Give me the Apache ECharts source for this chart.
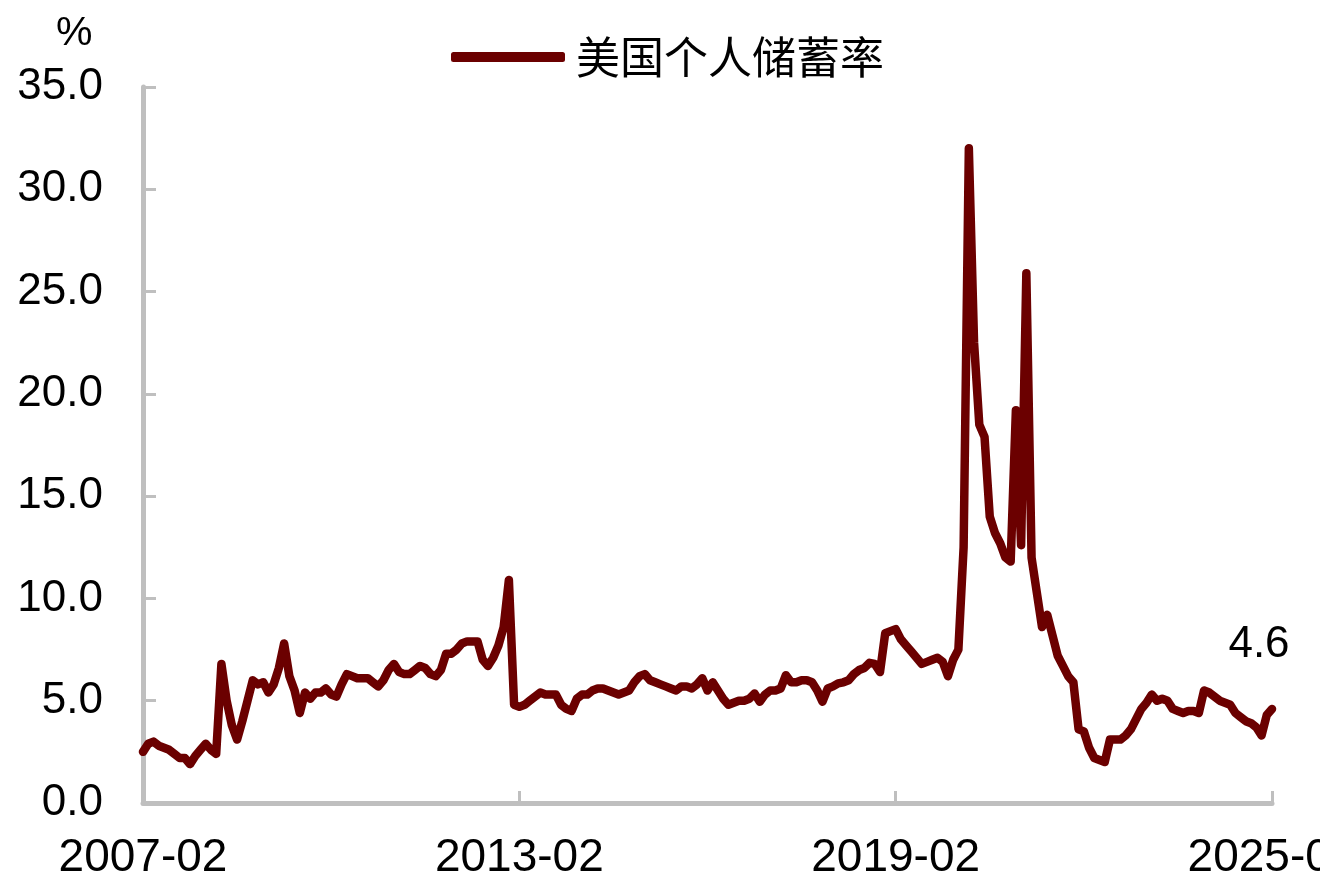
<!DOCTYPE html>
<html>
<head>
<meta charset="utf-8">
<script src="https://cdn.jsdelivr.net/npm/echarts@6/dist/echarts.min.js"></script>
<style>
  html, body { margin: 0; padding: 0; background: #fff; }
  #chart { width: 1320px; height: 891px; }
</style>
</head>
<body>
<div id="chart"></div>
<script>
// monthly US personal saving rate, 2007-02 .. 2025-02 (%)
const seriesName = '美国个人储蓄率'
const startYear = 2007
const startMonth = 2
const savingRate = [
  2.5, 2.9, 3.0, 2.8, 2.7, 2.6, 2.4, 2.2, 2.2, 1.9, 2.3,            // 2007-02..12
  2.6, 2.9, 2.6, 2.4, 6.8, 5.0, 3.8, 3.1, 4.0, 5.0, 6.0, 5.8,       // 2008
  5.9, 5.4, 5.8, 6.6, 7.8, 6.2, 5.5, 4.4, 5.4, 5.1, 5.4, 5.4,       // 2009
  5.6, 5.3, 5.2, 5.8, 6.3, 6.2, 6.1, 6.1, 6.1, 5.9, 5.7, 6.0,       // 2010
  6.5, 6.8, 6.4, 6.3, 6.3, 6.5, 6.7, 6.6, 6.3, 6.2, 6.5, 7.3,       // 2011
  7.3, 7.5, 7.8, 7.9, 7.9, 7.9, 7.0, 6.7, 7.1, 7.7, 8.6, 10.9,      // 2012
  4.8, 4.7, 4.8, 5.0, 5.2, 5.4, 5.3, 5.3, 5.3, 4.8, 4.6, 4.5,       // 2013
  5.1, 5.3, 5.3, 5.5, 5.6, 5.6, 5.5, 5.4, 5.3, 5.4, 5.5, 5.9,       // 2014
  6.2, 6.3, 6.0, 5.9, 5.8, 5.7, 5.6, 5.5, 5.7, 5.7, 5.6, 5.8,       // 2015
  6.1, 5.5, 5.9, 5.5, 5.1, 4.8, 4.9, 5.0, 5.0, 5.1, 5.35, 4.95,     // 2016
  5.3, 5.5, 5.5, 5.6, 6.25, 5.9, 5.9, 6.0, 6.0, 5.9, 5.5, 4.95,     // 2017
  5.6, 5.7, 5.85, 5.9, 6.0, 6.3, 6.5, 6.6, 6.85, 6.8, 6.4, 8.3,     // 2018
  8.4, 8.5, 8.0, 7.7, 7.4, 7.1, 6.8, 6.9, 7.0, 7.1, 6.9, 6.2,       // 2019
  7.0, 7.5, 12.5, 32.0, 22.5, 18.5, 17.9, 14.0, 13.2, 12.7, 12.0, 11.8, // 2020
  19.2, 12.6, 25.9, 12.0, 10.3, 8.6, 9.2, 8.2, 7.2, 6.7, 6.2, 5.9,  // 2021
  3.6, 3.5, 2.7, 2.2, 2.1, 2.0, 3.1, 3.1, 3.1, 3.3, 3.6, 4.1,       // 2022
  4.6, 4.9, 5.3, 5.0, 5.1, 5.0, 4.6, 4.5, 4.4, 4.5, 4.5, 4.4,       // 2023
  5.5, 5.4, 5.2, 5.0, 4.9, 4.8, 4.4, 4.2, 4.0, 3.9, 3.7, 3.3,       // 2024
  4.3, 4.6                                                          // 2025-01..02
]
const yTicks = [0, 5, 10, 15, 20, 25, 30, 35]

const months = []
for (let i = 0; i < savingRate.length; i++) {
  const m = startMonth - 1 + i
  const y = startYear + Math.floor(m / 12)
  months.push(`${y}-${String((m % 12) + 1).padStart(2, '0')}`)
}

const lineColor = '#6B0000'
const axisColor = '#BFBFBF'
const font = '"Liberation Sans", Arial, sans-serif'

const myChart = echarts.init(document.getElementById('chart'), null, { renderer: 'canvas' })

// only the last point carries a value label
const lastIdx = savingRate.length - 1
const seriesData = savingRate.map((v, i) => {
  if (i !== lastIdx) return v
  return {
    value: v,
    label: {
      show: true,
      position: 'top',
      distance: 42,
      offset: [-13, 0],
      formatter: (p) => p.value.toFixed(1),
      color: '#000',
      fontSize: 44,
      fontFamily: font
    }
  }
})

const option = {
  animation: false,
  title: {
    text: '%',
    left: 51,
    top: 8,
    textStyle: { fontSize: 41, fontWeight: 'normal', color: '#000', fontFamily: font }
  },
  legend: {
    data: [seriesName],
    left: 446,
    top: 30,
    itemWidth: 114,
    itemHeight: 10,
    icon: 'roundRect',
    textStyle: {
      fontSize: 44,
      color: '#000',
      fontFamily: '"Noto Sans CJK SC", sans-serif',
      padding: [0, 0, 0, 6]
    }
  },
  grid: {
    left: 143,
    right: 48,
    top: 87,
    bottom: 88,
    containLabel: false,
    outerBoundsMode: 'none'
  },
  xAxis: {
    type: 'category',
    boundaryGap: false,
    data: months,
    axisLine: { lineStyle: { color: axisColor, width: 5 } },
    axisTick: {
      inside: true,
      length: 12,
      interval: 71,
      lineStyle: { color: axisColor, width: 3 }
    },
    axisLabel: {
      interval: 71,
      margin: 32,
      fontSize: 46,
      color: '#000',
      fontFamily: font,
      hideOverlap: false
    },
    splitLine: { show: false }
  },
  yAxis: {
    type: 'value',
    min: yTicks[0],
    max: yTicks[yTicks.length - 1],
    interval: 5,
    axisLine: { show: true, lineStyle: { color: axisColor, width: 5 } },
    axisTick: {
      show: true,
      inside: true,
      length: 13,
      lineStyle: { color: axisColor, width: 3 }
    },
    axisLabel: {
      margin: 40,
      fontSize: 44,
      color: '#000',
      fontFamily: font,
      formatter: (v) => v.toFixed(1)
    },
    splitLine: { show: false }
  },
  series: [
    {
      name: seriesName,
      type: 'line',
      data: seriesData,
      showSymbol: true,
      showAllSymbol: true,
      symbol: 'circle',
      symbolSize: 0,
      color: lineColor,
      label: { show: false },
      lineStyle: { color: lineColor, width: 8.5, join: 'round', cap: 'round' }
    }
  ]
}

myChart.setOption(option)
</script>
</body>
</html>
